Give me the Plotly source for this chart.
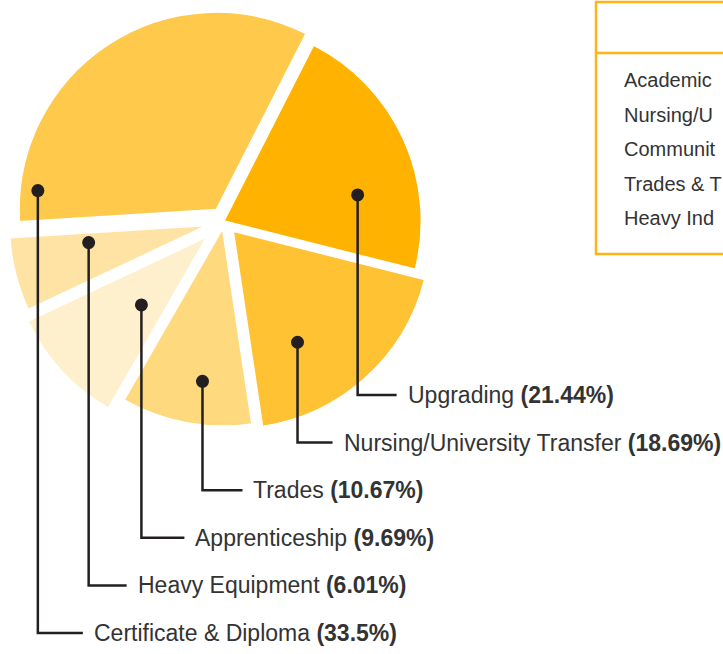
import math
import plotly.graph_objects as go

# ---------------- data ----------------
categories = ["Upgrading", "Nursing/University Transfer", "Trades",
              "Apprenticeship", "Heavy Equipment", "Certificate & Diploma"]
percentages = [21.44, 18.69, 10.67, 9.69, 6.01, 33.5]
pct_labels = ["21.44%", "18.69%", "10.67%", "9.69%", "6.01%", "33.5%"]
legend_rows = ["Academic", "Nursing/U", "Communit", "Trades & T", "Heavy Ind"]

# ---------------- styling / layout ----------------
W, H = 723, 654
colors = ["#FFB300", "#FFC232", "#FED97E", "#FEF0CC", "#FEE3A4", "#FFC94C"]
pulls = [0.0, 0.07, 0.04, 0.12, 0.09, 0.07]
rotation = 27
pie_cx, pie_cy, half_box = 224, 221, 221
# label anchor inside each slice: fraction of slice span, fraction of radius
anchor_frac = [0.673, 0.68, 0.417, 0.40, 0.785, 0.08]
anchor_rad = [0.69, 0.65, 0.78, 0.477, 0.605, 0.91]
row_top, row_step = 395, 47.6
text_dx = [48, 44, 49, 52, 47, 54]
gap_dx = 9
INK = "#231F20"
FONT = "Liberation Sans, Arial, sans-serif"

fig = go.Figure()
fig.add_trace(go.Pie(
    labels=categories, values=percentages, sort=False, direction="clockwise",
    rotation=rotation, pull=pulls, textinfo="none", hoverinfo="label+percent",
    marker=dict(colors=colors, line=dict(color="white", width=1.5)),
    domain=dict(x=[(pie_cx - half_box) / W, (pie_cx + half_box) / W],
                y=[max(0, 1 - (pie_cy + half_box) / H), min(1, 1 - (pie_cy - half_box) / H)]),
    showlegend=False,
))

# pie geometry (mirrors plotly's pie sizing) to place callouts
r = half_box / (1 + max(pulls))
total = sum(percentages)
start = rotation
annotations = []
shapes = []
for i, (cat, v) in enumerate(zip(categories, percentages)):
    span = 360 * v / total
    mid = math.radians(start + span / 2)
    ox, oy = pulls[i] * r * math.sin(mid), -pulls[i] * r * math.cos(mid)
    th = math.radians(start + anchor_frac[i] * span)
    dx = pie_cx + ox + anchor_rad[i] * r * math.sin(th)
    dy = pie_cy + oy - anchor_rad[i] * r * math.cos(th)
    start += span
    ry = row_top + i * row_step
    tx = dx + text_dx[i]
    shapes.append(dict(type="path", xref="x", yref="y", layer="above",
                       path=f"M{dx},{dy} L{dx},{ry} L{tx - gap_dx},{ry}",
                       line=dict(color=INK, width=2.5)))
    shapes.append(dict(type="circle", xref="x", yref="y", layer="above",
                       x0=dx - 6.5, x1=dx + 6.5, y0=dy - 6.5, y1=dy + 6.5,
                       fillcolor=INK, line=dict(width=0)))
    annotations.append(dict(
        x=tx, y=ry, xref="x", yref="y", xanchor="left", yanchor="middle",
        text=f"{cat} <b>({pct_labels[i]})</b>", showarrow=False,
        font=dict(family=FONT, size=23, color="#333333")))

# table-like box at top right
box_x0, box_y0, box_y1, head_y = 596, 2, 254, 53
shapes += [
    dict(type="rect", xref="x", yref="y", x0=box_x0, x1=W + 20, y0=box_y0, y1=box_y1,
         line=dict(color="#FDB515", width=2.5), fillcolor="rgba(0,0,0,0)"),
    dict(type="line", xref="x", yref="y", x0=box_x0, x1=W + 20, y0=head_y, y1=head_y,
         line=dict(color="#FDB515", width=2.5)),
]
for j, t in enumerate(legend_rows):
    annotations.append(dict(
        x=622, y=80 + j * 34.5, xref="x", yref="y", xanchor="left", yanchor="middle",
        text=t, showarrow=False, font=dict(family=FONT, size=20, color="#333333")))

fig.update_layout(
    width=W, height=H, margin=dict(l=0, r=0, t=0, b=0),
    paper_bgcolor="white", plot_bgcolor="rgba(0,0,0,0)",
    xaxis=dict(range=[0, W], visible=False, domain=[0, 1], fixedrange=True),
    yaxis=dict(range=[H, 0], visible=False, domain=[0, 1], fixedrange=True),
    shapes=shapes, annotations=annotations, showlegend=False,
)
fig.write_html("out.html", config={"displayModeBar": False},
               post_script="document.body.style.margin='0';")
